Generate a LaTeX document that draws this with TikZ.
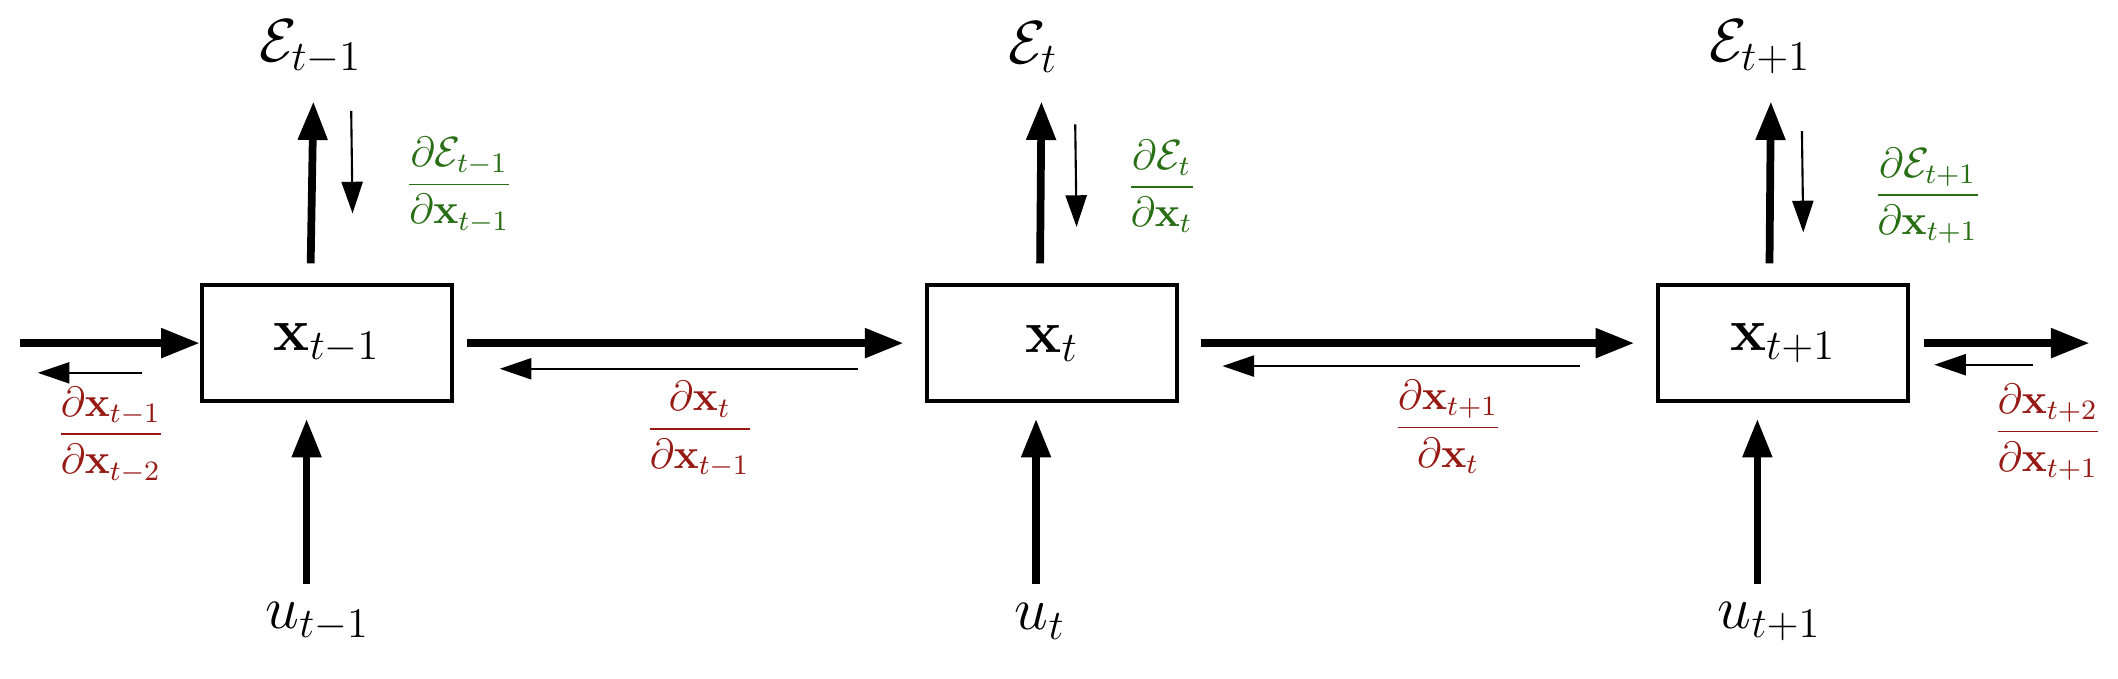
\documentclass[tikz,border=0pt]{standalone}
\usepackage{amsmath,amssymb}
\usetikzlibrary{arrows.meta}
\definecolor{dred}{RGB}{150,25,20}
\definecolor{dgreen}{RGB}{40,110,20}
\begin{document}
\begin{tikzpicture}[x=0.01351cm,y=-0.01351cm,
  box/.style={draw,line width=1.2pt,minimum width=185*0.01351cm,minimum height=86*0.01351cm,inner sep=0pt},
  big/.style={font=\LARGE},
  thick arr/.style={line width=2.2pt,-{Triangle[length=11pt,width=8pt]}},
  thin arr/.style={line width=0.6pt,-{Triangle[length=9pt,width=6pt]}},
  grad/.style={font=\large,text=dgreen},
  rgrad/.style={font=\large,text=dred}]
\useasboundingbox (0,0) rectangle (1568,502);
\node[box] (b1) at (242,254) {\LARGE $\mathbf{x}_{t-1}$};
\node[box] (b2) at (779,254) {\LARGE $\mathbf{x}_{t}$};
\node[box] (b3) at (1320,254) {\LARGE $\mathbf{x}_{t+1}$};
\node[big] (e1) at (230,35) {$\mathcal{E}_{t-1}$};
\node[big] (e2) at (765,35) {$\mathcal{E}_{t}$};
\node[big] (e3) at (1303,35) {$\mathcal{E}_{t+1}$};
\node[big] (u1) at (235,460) {$u_{t-1}$};
\node[big] (u2) at (770,460) {$u_{t}$};
\node[big] (u3) at (1310,460) {$u_{t+1}$};
\coordinate (ua1) at (227,432); \coordinate (ua2) at (767,432); \coordinate (ua3) at (1301,432);
\draw[thick arr] (ua1) -- (227,310);
\draw[thick arr] (ua2) -- (767,310);
\draw[thick arr] (ua3) -- (1301,310);
\draw[thick arr] (230,195) -- (232,75);
\draw[thick arr] (770,195) -- (771,75);
\draw[thick arr] (1310,195) -- (1311,75);
\draw[thin arr] (260,82) -- (261,158);
\draw[thin arr] (796,92) -- (797,168);
\draw[thin arr] (1334,97) -- (1335,172);
\node[grad] at (340,137) {$\dfrac{\partial\mathcal{E}_{t-1}}{\partial\mathbf{x}_{t-1}}$};
\node[grad] at (860,138) {$\dfrac{\partial\mathcal{E}_{t}}{\partial\mathbf{x}_{t}}$};
\node[grad] at (1427,145) {$\dfrac{\partial\mathcal{E}_{t+1}}{\partial\mathbf{x}_{t+1}}$};
\coordinate (l0) at (15,254); \coordinate (r4) at (1547,254);
\draw[thick arr] (l0) -- (b1.west);
\draw[thick arr] ([xshift=10*0.01351cm]b1.east) -- ([xshift=-16*0.01351cm]b2.west);
\draw[thick arr] ([xshift=16*0.01351cm]b2.east) -- ([xshift=-16*0.01351cm]b3.west);
\draw[thick arr] ([xshift=10*0.01351cm]b3.east) -- (r4);
\draw[thin arr] (105,276) -- (28,276);
\draw[thin arr] (635,273) -- (370,273);
\draw[thin arr] (1170,271) -- (905,271);
\draw[thin arr] (1505,270) -- (1432,270);
\node[rgrad] at (82,322) {$\dfrac{\partial\mathbf{x}_{t-1}}{\partial\mathbf{x}_{t-2}}$};
\node[rgrad] at (518,318) {$\dfrac{\partial\mathbf{x}_{t}}{\partial\mathbf{x}_{t-1}}$};
\node[rgrad] at (1072,316) {$\dfrac{\partial\mathbf{x}_{t+1}}{\partial\mathbf{x}_{t}}$};
\node[rgrad] at (1516,320) {$\dfrac{\partial\mathbf{x}_{t+2}}{\partial\mathbf{x}_{t+1}}$};
\end{tikzpicture}
\end{document}
